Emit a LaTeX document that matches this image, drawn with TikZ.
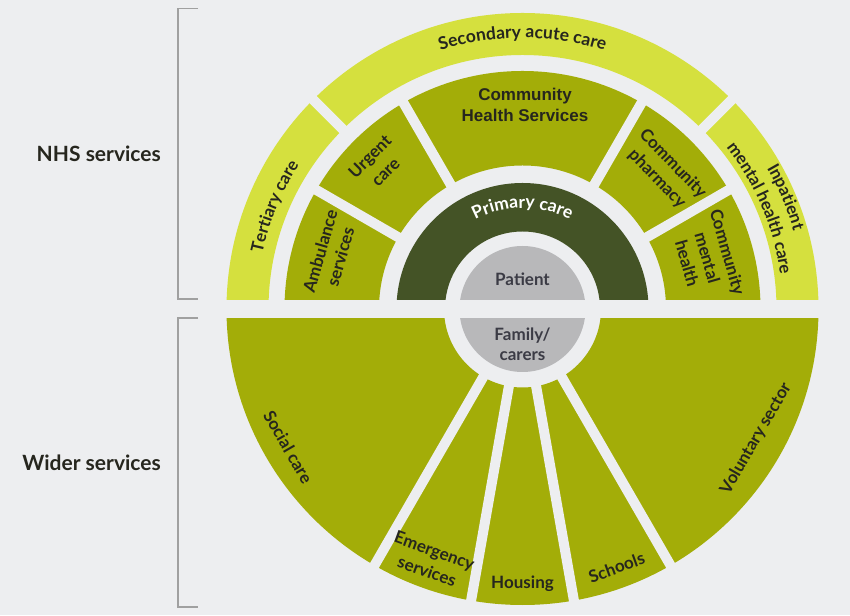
\documentclass[tikz,border=0pt]{standalone}
\usepackage{fontspec}
\setmainfont{Lato}
\newfontfamily\chsfont{Liberation Sans}
\usetikzlibrary{decorations.text}
\definecolor{bgc}{HTML}{EDEEF0}
\definecolor{limec}{HTML}{D5E03E}
\definecolor{olivec}{HTML}{A3AD08}
\definecolor{darkg}{HTML}{445326}
\definecolor{pgray}{HTML}{B8B8BA}
\definecolor{txt}{HTML}{26261E}
\definecolor{ptxt}{HTML}{3B3B45}
\definecolor{brk}{HTML}{A0A0A0}
\newcommand\annsec[5]{\fill[#5] (#1:#3pt) arc[start angle=#1,end angle=#2,radius=#3pt] -- (#2:#4pt) arc[start angle=#2,end angle=#1,radius=#4pt] -- cycle;}
\begin{document}
\begin{tikzpicture}[x=1pt,y=1pt,
  lbl/.style={font=\bfseries\fontsize{17}{22}\selectfont, text=txt, align=center, inner sep=0pt},
  side/.style={font=\bfseries\fontsize{21}{24}\selectfont, text=txt, anchor=east, inner sep=0pt},
  gapm/.style={draw=bgc, line width=10pt},
  bracket/.style={draw=brk, line width=1.1pt},
  curv/.style={decorate, decoration={text along path, text align=center, text color=#1}},
]
\useasboundingbox (0,0) rectangle (850,615);
\fill[bgc] (0,0) rectangle (850,615);
% brackets
\draw[bracket] (198,606.5) -- (178,606.5) -- (178,316) -- (198,316);
\draw[bracket] (198,297) -- (178,297) -- (178,8) -- (198,8);
\node[side] (nhs) at (161,461) {NHS services};
\node[side] (wider) at (161,152) {Wider services};
\begin{scope}[shift={(522.5,306)}]
  % rings
  \annsec{0}{180}{254}{296}{limec}
  \annsec{0}{180}{143.5}{238}{olivec}
  \annsec{0}{180}{77.5}{126}{darkg}
  \annsec{180}{360}{78.5}{296}{olivec}
  \fill[pgray] (0,0) circle[radius=63pt];
  % gaps
  \foreach \a in {30,60,120,150} \draw[gapm] (\a:135pt) -- (\a:246pt);
  \foreach \a in {45,135} \draw[gapm] (\a:246pt) -- (\a:305pt);
  \foreach \a in {240,260,280,300} \draw[gapm] (\a:70pt) -- (\a:305pt);
  \fill[bgc] (-310,-9) rectangle (310,9);
  % curved labels
  \path[curv=txt, decoration={text={|\bfseries\fontsize{17.5}{20}\selectfont|Secondary acute care}}]
    (150:271pt) arc[start angle=150, end angle=30, radius=271pt];
  \path[curv=txt, decoration={text={|\bfseries\fontsize{17}{20}\selectfont|Tertiary care}}]
    (178:266pt) arc[start angle=178, end angle=137, radius=266pt];
  \path[curv=txt, decoration={text={|\bfseries\fontsize{17}{20}\selectfont|Inpatient}}]
    (44:282pt) arc[start angle=44, end angle=2, radius=282pt];
  \path[curv=txt, decoration={text={|\bfseries\fontsize{17}{20}\selectfont|mental health care}}]
    (44:260pt) arc[start angle=44, end angle=2, radius=260pt];
  \path[curv=white, decoration={text={|\bfseries\fontsize{17.5}{20}\selectfont|Primary care}}]
    (180:101pt) arc[start angle=180, end angle=0, radius=101pt];
  % straight labels, top half
  \node[lbl, font=\chsfont\bfseries\fontsize{17}{21}\selectfont] (chs) at (2.5,204) {Community\\Health Services};
  \node[lbl, rotate=45] (urgent) at (135:205pt) {Urgent\\care};
  \node[lbl, rotate=74, font=\bfseries\fontsize{17}{21}\selectfont] (amb) at (164:200pt) {Ambulance\\services};
  \node[lbl, rotate=-46] (pharm) at (44:198pt) {Community\\pharmacy};
  \node[lbl, rotate=-74, font=\bfseries\fontsize{17}{21}\selectfont] (cmh) at (15.5:192pt) {Community\\mental\\health};
  \node[lbl, text=ptxt] (patient) at (0,30) {Patient};
  \node[lbl, text=ptxt, font=\bfseries\fontsize{17}{20}\selectfont] (family) at (0,-35) {Family/\\carers};
  % lower half
  \node[lbl, rotate=-60] (social) at (210.5:272pt) {Social care};
  \node[lbl, rotate=-20] (emerg) at (250:268pt) {Emergency\\services};
  \node[lbl] (housing) at (270:275pt) {Housing};
  \node[lbl, rotate=20] (schools) at (290:275pt) {Schools};
  \node[lbl, rotate=60] (vol) at (331:267pt) {Voluntary sector};
\end{scope}
\end{tikzpicture}
\end{document}
